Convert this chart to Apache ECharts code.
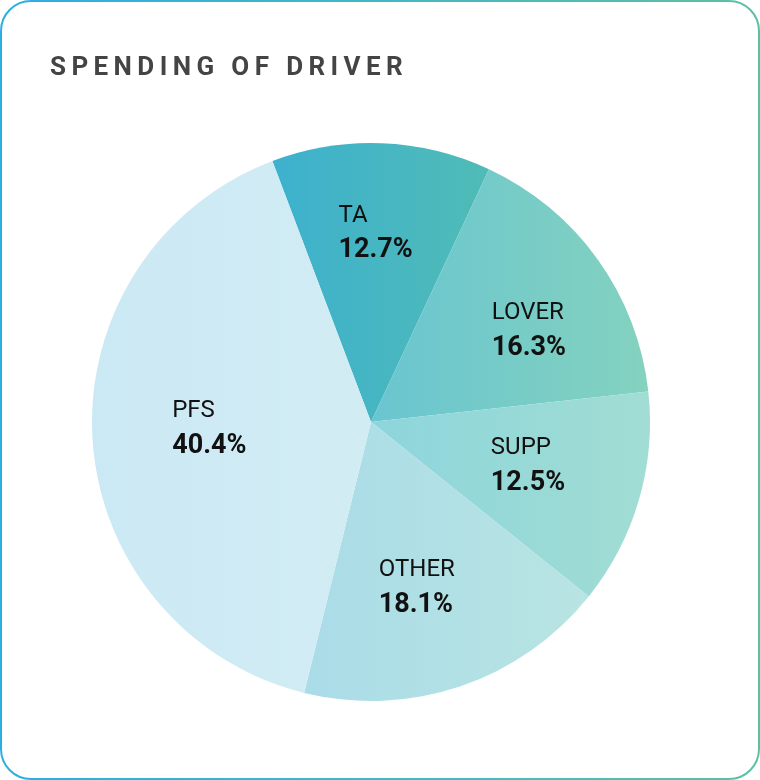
<!DOCTYPE html>
<html><head><meta charset="utf-8">
<script src="https://cdn.jsdelivr.net/npm/echarts@6/dist/echarts.min.js"></script>
<style>
html,body{margin:0;padding:0;background:#fff;}
#wrap{position:relative;width:760px;height:780px;}
#chart{position:absolute;left:0;top:0;width:760px;height:780px;}
#title{position:absolute;left:50px;top:51px;font-family:Roboto,sans-serif;font-weight:bold;font-size:26px;line-height:30px;letter-spacing:5.4px;color:#444;white-space:nowrap;}
</style></head><body>
<div id="wrap"><div id="chart"></div><div id="title">SPENDING OF DRIVER</div></div>
<script>
// ---- data ----
const categories = ['TA', 'LOVER', 'SUPP', 'OTHER', 'PFS'];
const shares = [12.7, 16.3, 12.5, 18.1, 40.4];

// ---- styles (kept apart from the data) ----
const sliceGradients = [
  ['#3db1ce', '#50bbb6'],
  ['#69c5d0', '#84d2bf'],
  ['#8dd5dc', '#a1ddd3'],
  ['#aadce8', '#b8e4e2'],
  ['#cbe9f5', '#d2ecf3']
];
// small nudges of each label from its slice's inside anchor, in px
const labelNudges = [[-2, -12], [14, 12], [-13, -6], [-11, -2], [15, -4]];

const chart = echarts.init(document.getElementById('chart'), null, {renderer: 'canvas'});
const lg = (a, b) => new echarts.graphic.LinearGradient(0, 0, 1, 0, [{offset: 0, color: a}, {offset: 1, color: b}]);

const visibleData = categories.map((c, i) => ({
  name: c, value: shares[i],
  itemStyle: {color: lg(sliceGradients[i][0], sliceGradients[i][1])}
}));
const labelData = categories.map((c, i) => ({
  name: c, value: shares[i],
  label: {offset: labelNudges[i]}
}));

chart.setOption({
  animation: false,
  graphic: [{
    type: 'rect',
    shape: {x: 1, y: 1, width: 758, height: 778, r: 30},
    style: {fill: 'none', lineWidth: 2, stroke: new echarts.graphic.LinearGradient(0, 0, 1, 0, [
      {offset: 0, color: '#2caee1'}, {offset: 1, color: '#5cc0a4'}])},
    silent: true, z: 10
  }],
  series: [{
    type: 'pie',
    center: [371, 422],
    radius: [0, 279],
    startAngle: 110.7,
    clockwise: true,
    silent: true,
    label: {show: false},
    labelLine: {show: false},
    itemStyle: {borderWidth: 0},
    emphasis: {disabled: true},
    data: visibleData
  }, {
    type: 'pie',
    center: [371, 422],
    radius: [0, 348],
    startAngle: 110.7,
    clockwise: true,
    silent: true,
    avoidLabelOverlap: false,
    itemStyle: {color: 'rgba(0,0,0,0)', borderWidth: 0},
    labelLine: {show: false},
    emphasis: {disabled: true},
    label: {
      show: true,
      position: 'inside',
      formatter: p => '{n|' + p.name + '}\n{v|' + p.value.toFixed(1) + '%}',
      rich: {
        n: {fontFamily: 'Roboto', fontSize: 24, color: '#111', lineHeight: 35, align: 'left'},
        v: {fontFamily: 'Roboto', fontSize: 27, fontWeight: 'bold', color: '#111', lineHeight: 35, align: 'left'}
      }
    },
    data: labelData
  }]
});
</script>
</body></html>
